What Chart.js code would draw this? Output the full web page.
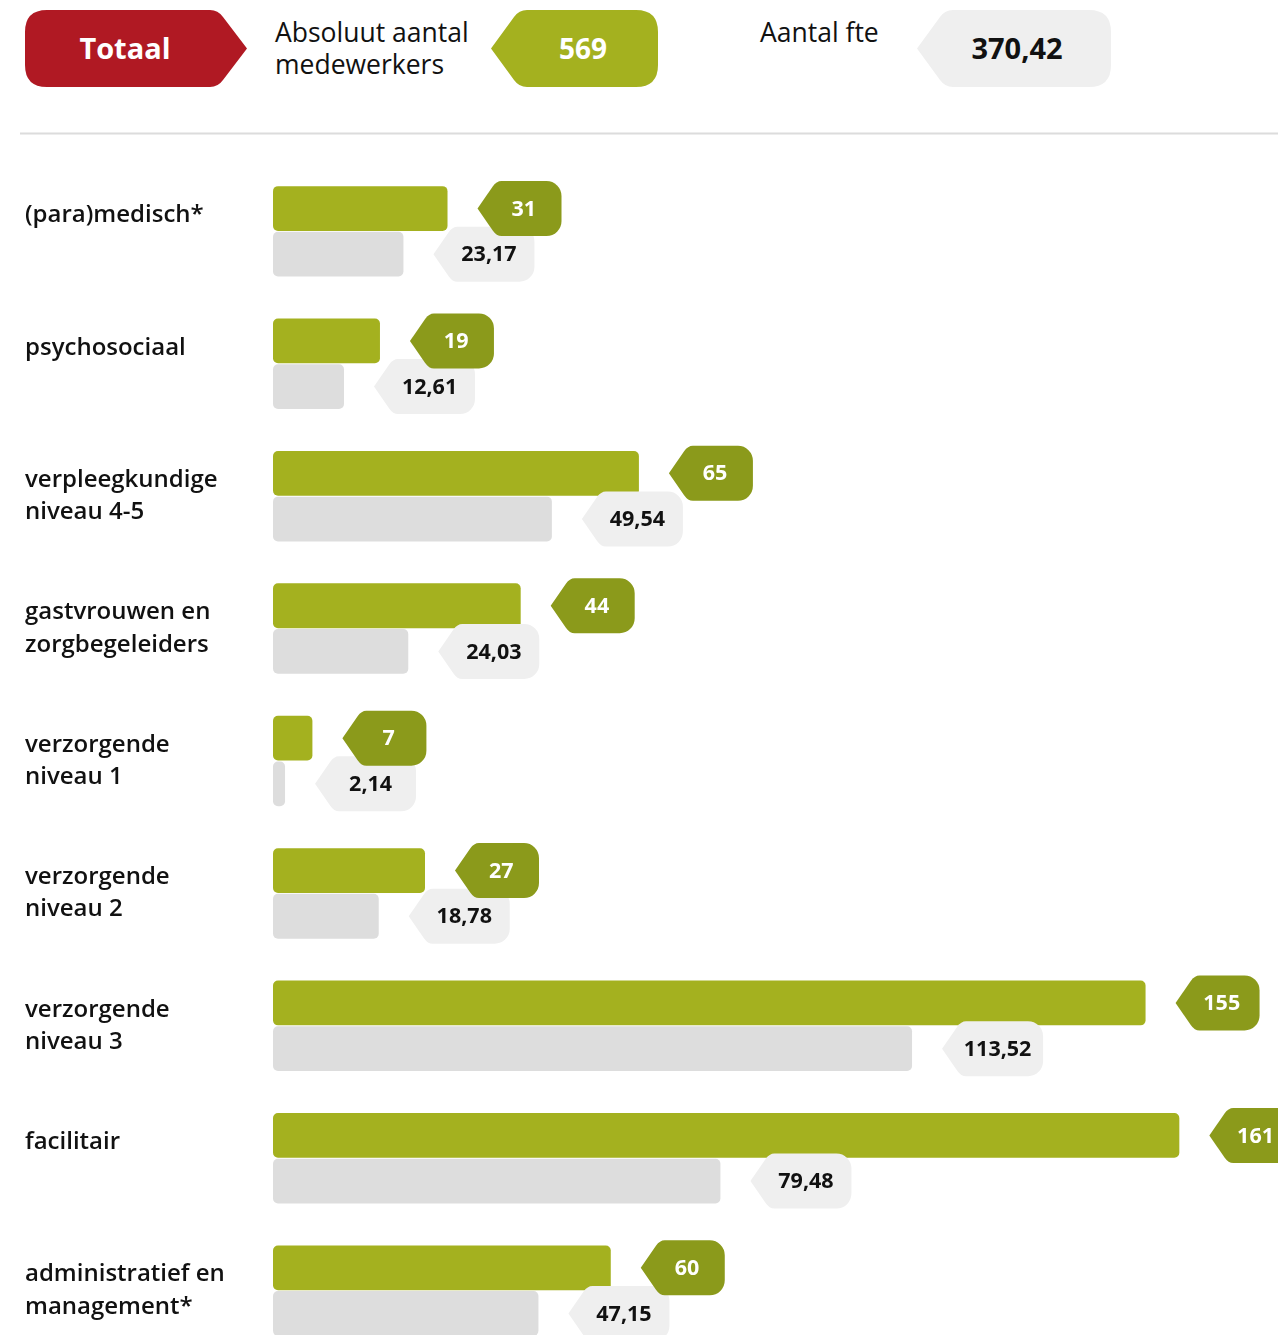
<!DOCTYPE html>
<html lang="nl">
<head>
<meta charset="utf-8">
<title>Medewerkers per functiegroep</title>
<script src="https://cdn.jsdelivr.net/npm/chart.js@4"></script>
<style>
  html, body { margin: 0; padding: 0; width: 1278px; height: 1335px; overflow: hidden; background: #fff; font-family: 'Open Sans', sans-serif; }
  #head { position: absolute; left: 0; top: 0; }
  #head text { font-family: 'Open Sans', sans-serif; }
  #wrap { position: absolute; left: 0; top: 133px; width: 1278px; height: 1256px; }
</style>
</head>
<body>
<svg id="head" width="1278" height="140">
  <path fill="#b01923" d="M47,10 H210 Q218,10 223,17 L247,48.5 L223,80 Q218,87 210,87 H47 Q25,87 25,65 V32 Q25,10 47,10 Z"/>
  <text x="125" y="47.5" fill="#fff" font-weight="700" font-size="29" text-anchor="middle" dominant-baseline="central">Totaal</text>
  <text x="275" y="42" fill="#111" font-size="26.5">Absoluut aantal</text>
  <text x="275" y="74" fill="#111" font-size="26.5">medewerkers</text>
  <path fill="#a4b11f" d="M491,48.5 L514,17 Q519,10 527,10 H636 Q658,10 658,32 V65 Q658,87 636,87 H527 Q519,87 514,80 Z"/>
  <text id="totAbs" x="583" y="47.5" fill="#fff" font-weight="700" font-size="28" text-anchor="middle" dominant-baseline="central"></text>
  <text x="760" y="42" fill="#111" font-size="26.5">Aantal fte</text>
  <path fill="#efefef" d="M917,48.5 L940,17 Q945,10 953,10 H1089 Q1111,10 1111,32 V65 Q1111,87 1089,87 H953 Q945,87 940,80 Z"/>
  <text id="totFte" x="1017" y="47.5" fill="#111" font-weight="700" font-size="29" text-anchor="middle" dominant-baseline="central"></text>
  <line x1="20" y1="133.5" x2="1278" y2="133.5" stroke="#dcdcdc" stroke-width="2"/>
</svg>
<div id="wrap"><canvas id="c"></canvas></div>
<script>
const GREEN = '#a4b11f', GREEN_TAG = '#8b9a1b';
const GREY = '#dddddd', GREY_TAG = '#efefef';

// single-line labels get an empty second line so they sit at the top of the row
const categories = [
  ['(para)medisch*', ''],
  ['psychosociaal', ''],
  ['verpleegkundige', 'niveau 4-5'],
  ['gastvrouwen en', 'zorgbegeleiders'],
  ['verzorgende', 'niveau 1'],
  ['verzorgende', 'niveau 2'],
  ['verzorgende', 'niveau 3'],
  ['facilitair', ''],
  ['administratief en', 'management*']
];
const absoluut = [31, 19, 65, 44, 7, 27, 155, 161, 60];
const fte = [23.17, 12.61, 49.54, 24.03, 2.14, 18.78, 113.52, 79.48, 47.15];

const nl = v => v.toFixed(2).replace('.', ',');
const sum = a => a.reduce((s, v) => s + v, 0);
document.getElementById('totAbs').textContent = sum(absoluut);
document.getElementById('totFte').textContent = nl(sum(fte));

// pointed label with rounded right side
function tagPath(ctx, x, cy, w, h, tipW, r) {
  const top = cy - h / 2, bot = cy + h / 2, f = 0.2;
  ctx.beginPath();
  ctx.moveTo(x, cy);
  ctx.lineTo(x + tipW * (1 - f), top + h / 2 * f);
  ctx.quadraticCurveTo(x + tipW, top, x + tipW + 5, top);
  ctx.lineTo(x + w - r, top);
  ctx.arcTo(x + w, top, x + w, top + r, r);
  ctx.lineTo(x + w, bot - r);
  ctx.arcTo(x + w, bot, x + w - r, bot, r);
  ctx.lineTo(x + tipW + 5, bot);
  ctx.quadraticCurveTo(x + tipW, bot, x + tipW * (1 - f), bot - h / 2 * f);
  ctx.closePath();
}

const tags = {
  id: 'tags',
  afterDatasetsDraw(chart) {
    const ctx = chart.ctx;
    // fte tags first so the count tags overlap them
    [
      { i: 1, fill: GREY_TAG, ink: '#111', w: 101, fmt: nl },
      { i: 0, fill: GREEN_TAG, ink: '#fff', w: 84, fmt: v => String(v) }
    ].forEach(t => {
      const vals = chart.data.datasets[t.i].data;
      chart.getDatasetMeta(t.i).data.forEach((bar, j) => {
        const x = bar.x + 30, cy = bar.y;
        ctx.save();
        tagPath(ctx, x, cy, t.w, 55, 19, 15);
        ctx.fillStyle = t.fill;
        ctx.fill();
        ctx.fillStyle = t.ink;
        ctx.font = '700 21.5px "Open Sans"';
        ctx.textAlign = 'center';
        ctx.textBaseline = 'middle';
        ctx.fillText(t.fmt(vals[j]), x + t.w * 0.55, cy + 1);
        ctx.restore();
      });
    });
  }
};

new Chart(document.getElementById('c'), {
  type: 'bar',
  data: {
    labels: categories,
    datasets: [
      { label: 'Absoluut aantal medewerkers', data: absoluut, backgroundColor: GREEN, borderRadius: 5, borderSkipped: false },
      { label: 'Aantal fte', data: fte, backgroundColor: GREY, borderRadius: 5, borderSkipped: false }
    ]
  },
  options: {
    indexAxis: 'y',
    responsive: true, maintainAspectRatio: false, animation: false,
    layout: { padding: { left: 25, right: 48, top: 0, bottom: 0 } },
    datasets: { bar: { categoryPercentage: 0.69, barPercentage: 0.98 } },
    plugins: { legend: { display: false }, tooltip: { enabled: false } },
    scales: {
      x: { display: false, min: 0, max: 170 },
      y: {
        grid: { display: false }, border: { display: false },
        ticks: { crossAlign: 'far', padding: 0, color: '#111', font: { family: 'Open Sans', size: 24, weight: 600, lineHeight: 1.34 } },
        afterFit: s => { s.width = 248; }
      }
    }
  },
  plugins: [tags]
});
</script>
</body>
</html>
